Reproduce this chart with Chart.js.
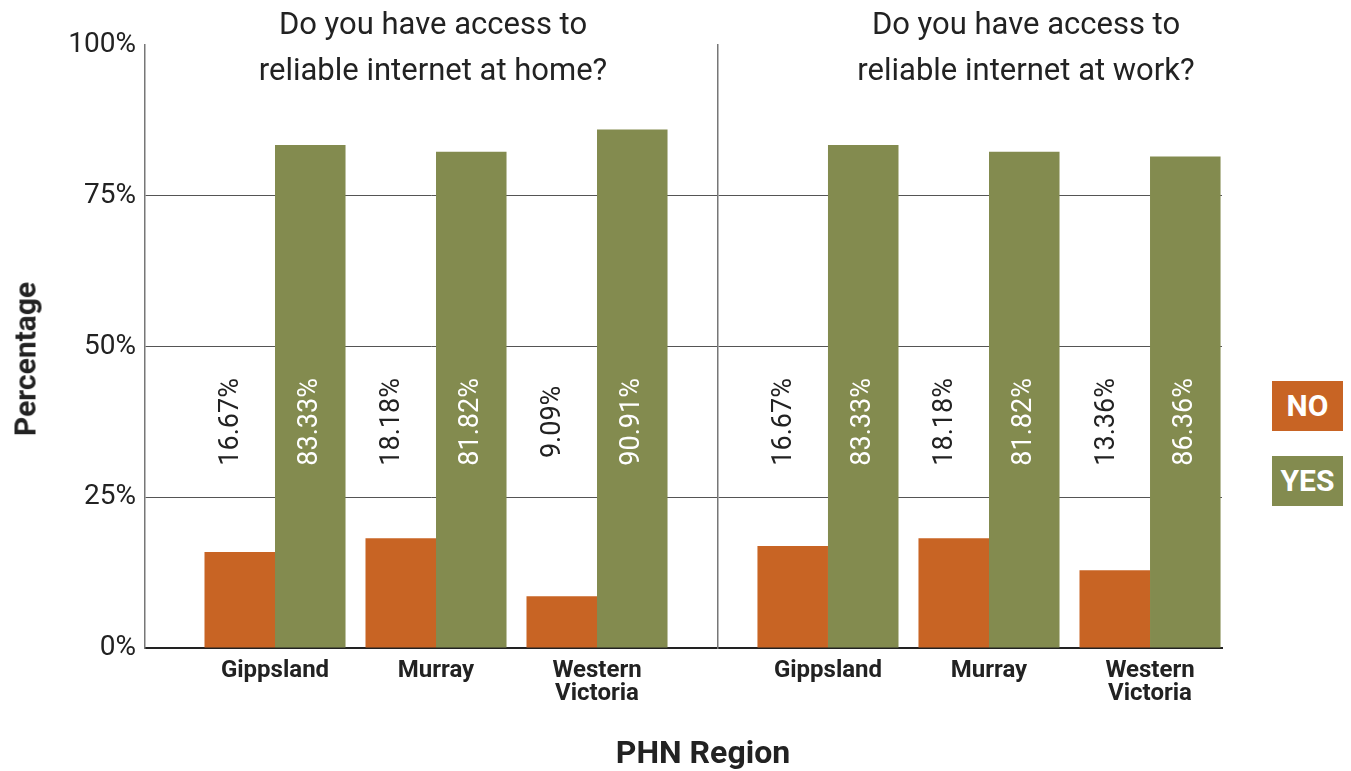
<!DOCTYPE html>
<html>
<head>
<meta charset="utf-8">
<script src="https://cdn.jsdelivr.net/npm/chart.js@4/dist/chart.umd.min.js"></script>
<style>
  body { margin: 0; background: #fff; font-family: Roboto, sans-serif; }
  #wrap { position: relative; width: 1351px; height: 771px; overflow: hidden; }
  .box { position: absolute; }
  .title { position: absolute; text-align: center; color: #222; font-size: 31px; line-height: 46px; font-weight: 400; }
  .legend { position: absolute; width: 71px; height: 50px; color: #fff; font-weight: 700; font-size: 30px;
            line-height: 50px; text-align: center; }
</style>
</head>
<body>
<div id="wrap">
  <div class="box" style="left:0;top:0;width:720px;height:771px"><canvas id="homeChart"></canvas></div>
  <div class="box" style="left:700px;top:0;width:530px;height:771px"><canvas id="workChart"></canvas></div>
  <div class="title" style="left:183px;top:1px;width:500px">Do you have access to<br>reliable internet at home?</div>
  <div class="title" style="left:776px;top:1px;width:500px">Do you have access to<br>reliable internet at work?</div>
  <div class="legend" style="left:1272px;top:381px;background:#c86424">NO</div>
  <div class="legend" style="left:1272px;top:456px;background:#838b4f">YES</div>
  <div style="position:absolute;left:25px;top:359px;transform:translate(-50%,-50%) rotate(-90deg);font-weight:700;font-size:30px;color:#222;white-space:nowrap">Percentage</div>
  <div style="position:absolute;left:703px;top:752px;transform:translate(-50%,-50%);font-weight:700;font-size:32px;color:#222;white-space:nowrap">PHN Region</div>
</div>
<script>
const categories = ['Gippsland', 'Murray', ['Western', 'Victoria']];
const seriesNames = ['NO', 'YES'];
const yTicks = [0, 25, 50, 75, 100];

// bar heights as drawn
const homeNo = [15.9, 18.2, 8.6];
const homeYes = [83.4, 82.3, 86.0];
const workNo = [16.9, 18.2, 12.9];
const workYes = [83.4, 82.3, 81.5];

// printed value labels
const homeNoLabels = ['16.67%', '18.18%', '9.09%'];
const homeYesLabels = ['83.33%', '81.82%', '90.91%'];
const workNoLabels = ['16.67%', '18.18%', '13.36%'];
const workYesLabels = ['83.33%', '81.82%', '86.36%'];

Chart.defaults.font.family = 'Roboto, sans-serif';
Chart.defaults.color = '#222';

const valueLabels = {
  id: 'valueLabels',
  afterDatasetsDraw(chart) {
    const ctx = chart.ctx;
    const y = chart.scales.y.getPixelForValue(37.5);
    chart.data.datasets.forEach((ds, di) => {
      chart.getDatasetMeta(di).data.forEach((bar, i) => {
        ctx.save();
        ctx.translate(bar.x + (di === 0 ? -8 : 0), y);
        ctx.rotate(-Math.PI / 2);
        ctx.font = '400 27px Roboto, sans-serif';
        ctx.fillStyle = di === 0 ? '#222' : '#fff';
        ctx.textAlign = 'center';
        ctx.textBaseline = 'middle';
        ctx.fillText(ds.valueLabels[i], 0, 0);
        ctx.restore();
      });
    });
  }
};

function makeChart(id, no, yes, noLabels, yesLabels, xMin, xMax, yWidth, showTicks, padRight) {
  const toPoints = arr => arr.map((v, i) => ({ x: i + 1, y: v }));
  return new Chart(document.getElementById(id), {
    type: 'bar',
    data: {
      datasets: [
        { label: seriesNames[0], data: toPoints(no), backgroundColor: '#c86424', valueLabels: noLabels },
        { label: seriesNames[1], data: toPoints(yes), backgroundColor: '#838b4f', valueLabels: yesLabels }
      ]
    },
    options: {
      responsive: true,
      maintainAspectRatio: false,
      animation: false,
      layout: { padding: { top: 45, right: padRight, left: 0, bottom: 0 } },
      datasets: { bar: { categoryPercentage: 0.876, barPercentage: 1 } },
      plugins: { legend: { display: false }, tooltip: { enabled: false } },
      scales: {
        x: {
          type: 'linear',
          offset: false,
          min: xMin,
          max: xMax,
          afterFit(scale) { scale.height = 123; },
          grid: { color: 'transparent', drawTicks: false, offset: false },
          border: { display: true, color: '#222', width: 2 },
          ticks: {
            stepSize: 1,
            includeBounds: false,
            autoSkip: false,
            maxRotation: 0,
            padding: 12,
            font: { size: 24, weight: '700', lineHeight: 0.95 },
            color: '#222',
            callback: v => categories[v - 1] || ''
          }
        },
        y: {
          min: 0,
          max: 100,
          afterFit(scale) { scale.width = yWidth; },
          afterBuildTicks(scale) { scale.ticks = yTicks.map(v => ({ value: v })); },
          grid: {
            drawTicks: false,
            color: c => (c.tick.value === 100 || c.tick.value === 0) ? 'transparent' : '#555',
            lineWidth: 1
          },
          border: { display: true, color: '#777', width: 1.5 },
          ticks: {
            display: showTicks,
            padding: 9,
            font: { size: 28, weight: '400' },
            color: '#222',
            callback: v => v + '%'
          }
        }
      }
    },
    plugins: [valueLabels]
  });
}

makeChart('homeChart', homeNo, homeYes, homeNoLabels, homeYesLabels, 0.1925, 3.7515, 145, true, 2);
makeChart('workChart', workNo, workYes, workNoLabels, workYesLabels, 0.317, 3.447, 18, false, 8);
</script>
</body>
</html>
